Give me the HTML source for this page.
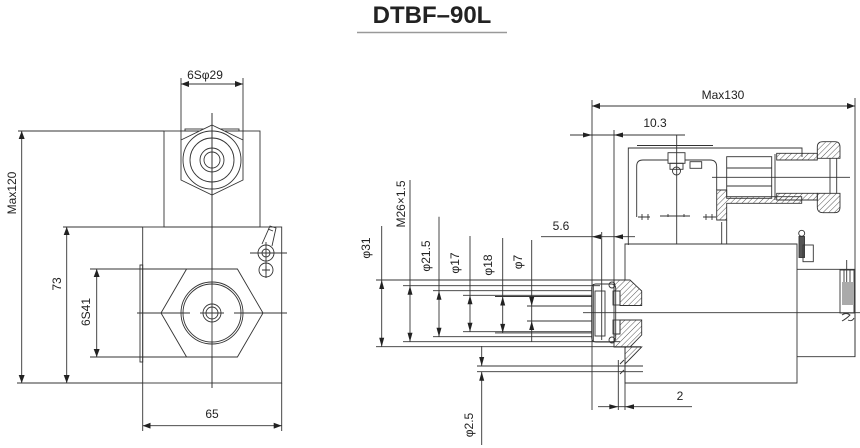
<!DOCTYPE html>
<html><head><meta charset="utf-8"><style>
html,body{margin:0;padding:0;background:#fff;}
svg{display:block;}
text{font-family:"Liberation Sans",Arial,sans-serif;fill:#222;}
</style></head><body>
<svg width="860" height="448" viewBox="0 0 860 448" xmlns="http://www.w3.org/2000/svg">
<defs>
<marker id="a" viewBox="0 0 8 6" refX="8" refY="3" markerWidth="8" markerHeight="6" markerUnits="userSpaceOnUse" orient="auto-start-reverse"><path d="M0,0 L8,3 L0,6 z" fill="#222"/></marker>
<pattern id="h" width="4" height="4" patternUnits="userSpaceOnUse" patternTransform="rotate(45)"><line x1="0" y1="0" x2="0" y2="4" stroke="#444" stroke-width="0.9"/></pattern>
</defs>

<!-- Title -->
<text x="432" y="23" text-anchor="middle" font-size="24" font-weight="bold">DTBF–90L</text>
<line x1="357" y1="32.5" x2="507" y2="32.5" stroke="#999" stroke-width="1.5"/>

<g stroke="#333" stroke-width="0.9" fill="none">
<!-- ============ LEFT VIEW ============ -->
<!-- 6Sphi29 -->
<line x1="181" y1="78" x2="181" y2="140"/>
<line x1="243" y1="78" x2="243" y2="140"/>
<line x1="181" y1="84" x2="243" y2="84" marker-start="url(#a)" marker-end="url(#a)"/>
<!-- upper body -->
<rect x="164" y="131" width="96" height="96"/>
<line x1="18" y1="131" x2="164" y2="131"/>
<rect x="185" y="129" width="54" height="2"/>
<polygon points="212,125 243,140 243,180 212,195 181,180 181,140" fill="#fff"/>
<circle cx="212" cy="160" r="29"/>
<circle cx="212" cy="160" r="22"/>
<circle cx="212" cy="160" r="12"/>
<circle cx="212" cy="160" r="8"/>
<!-- center line -->
<line x1="212" y1="113" x2="212" y2="388"/>
<!-- Max120 -->
<line x1="21.7" y1="131" x2="21.7" y2="383" marker-start="url(#a)" marker-end="url(#a)"/>
<!-- lower body -->
<rect x="142.7" y="227" width="139" height="156"/>
<line x1="63" y1="227" x2="142.7" y2="227"/>
<line x1="17" y1="383" x2="142.7" y2="383"/>
<line x1="66.7" y1="227" x2="66.7" y2="383" marker-start="url(#a)" marker-end="url(#a)"/>
<!-- 6S41 -->
<line x1="90" y1="269" x2="187" y2="269"/>
<line x1="90" y1="357" x2="187" y2="357"/>
<line x1="96.7" y1="269" x2="96.7" y2="357" marker-start="url(#a)" marker-end="url(#a)"/>
<rect x="140" y="265" width="2.7" height="97"/>
<polygon points="186.6,269 237.4,269 263,313 237.4,357 186.6,357 161,313" fill="#fff"/>
<circle cx="212" cy="313" r="31"/>
<circle cx="212" cy="313" r="29"/>
<circle cx="212" cy="313" r="9"/>
<circle cx="212" cy="313" r="6"/>
<line x1="137" y1="313" x2="190" y2="313"/>
<line x1="200" y1="313" x2="224" y2="313"/>
<line x1="234" y1="313" x2="287" y2="313"/>
<line x1="212" y1="113" x2="212" y2="388"/>
<!-- fitting -->
<path d="M262,244 L270,226 L276,228 L272,246"/>
<line x1="268" y1="229" x2="273" y2="231"/>
<circle cx="266" cy="253" r="8"/>
<circle cx="266" cy="253" r="4"/>
<circle cx="266" cy="270" r="7"/>
<path d="M262,270 L270,270 M266,266 L266,274"/>
<line x1="250" y1="253" x2="287" y2="253"/>
<line x1="266" y1="242" x2="266" y2="278"/>
<!-- 65 -->
<line x1="142.7" y1="383" x2="142.7" y2="431"/>
<line x1="281.7" y1="383" x2="281.7" y2="431"/>
<line x1="142.7" y1="425.7" x2="281.7" y2="425.7" marker-start="url(#a)" marker-end="url(#a)"/>

<!-- ============ RIGHT VIEW ============ -->
<!-- Max130 -->
<line x1="592" y1="100" x2="592" y2="410"/>
<line x1="855" y1="98" x2="855" y2="357"/>
<line x1="592" y1="106" x2="855" y2="106" marker-start="url(#a)" marker-end="url(#a)"/>
<!-- 10.3 -->
<line x1="570" y1="135" x2="685" y2="135"/>
<line x1="614" y1="130" x2="614" y2="340"/>
<!-- 5.6 -->
<line x1="541" y1="236.7" x2="635" y2="236.7"/>
<line x1="601.7" y1="232" x2="601.7" y2="340"/>

<!-- upper box -->
<path d="M628.3,245 V148 H802 V157"/>
<line x1="637" y1="145.5" x2="713" y2="145.5"/>
<path d="M636.7,217 V166 Q636.7,160 643,160 H710 Q716.7,160 716.7,167 V190"/>
<rect x="668" y="152.7" width="17" height="10.6" fill="#fff"/>
<rect x="670" y="163.3" width="13" height="6"/>
<circle cx="676.5" cy="171" r="4"/>
<rect x="690" y="161.7" width="11.7" height="6.6"/>
<line x1="676.7" y1="135" x2="676.7" y2="244"/>
<path d="M638,217 h12 M642,214 v6 M648,214 v6 M660,216 h30 M668,214 v3 M684,214 v3 M703,217 h13 M706,214 v6 M712,214 v6"/>
<line x1="721.7" y1="222" x2="721.7" y2="244"/>
<line x1="726.7" y1="220" x2="726.7" y2="244"/>
<!-- bracket hatched -->
<path d="M716.7,190 H726.7 V196.7 H801.7 V203.3 H726.7 V220 H716.7 Z" fill="url(#h)"/>
<!-- connector -->
<rect x="726.7" y="156.7" width="45" height="41.6"/>
<line x1="726.7" y1="168" x2="771.7" y2="168"/>
<line x1="726.7" y1="186" x2="771.7" y2="186"/>
<line x1="775" y1="154" x2="775" y2="200"/>
<path d="M776.7,153.3 H817.3 V160 H776.7 Z" fill="url(#h)"/>
<path d="M776.7,193.3 H817.3 V200 H776.7 Z" fill="url(#h)"/>
<path d="M817.3,147 Q817.3,141.7 823,141.7 H835 Q840,141.7 840,147 V158.3 H817.3 Z" fill="url(#h)"/>
<path d="M817.3,193.3 H840 V207 Q840,212.7 835,212.7 H823 Q817.3,212.7 817.3,207 Z" fill="url(#h)"/>
<line x1="836.7" y1="158.3" x2="836.7" y2="193.3"/>
<line x1="830" y1="158.3" x2="830" y2="193.3"/>
<line x1="712" y1="177.3" x2="850" y2="177.3"/>

<!-- main block -->
<path d="M625,275 V244 H797 V383 H625 V347"/>
<path d="M797,269.3 H855 V356.7 H797"/>
<!-- pin -->
<circle cx="801.7" cy="233.3" r="3"/>
<rect x="799" y="236.5" width="5.5" height="21" fill="#555"/>
<rect x="803" y="245" width="10.3" height="16.7"/>
<!-- plug right -->
<rect x="840" y="270" width="14" height="43"/>
<rect x="842" y="282" width="12" height="23" fill="#aaa" stroke="none"/>
<line x1="846.7" y1="260" x2="846.7" y2="282"/>
<line x1="844" y1="270" x2="844" y2="282"/>
<line x1="850" y1="270" x2="850" y2="282"/>
<path d="M842,315 q4,-3 8,0 q-4,4 -8,6 M848,320 q4,2 6,-2"/>
<!-- center line -->
<line x1="583" y1="312.7" x2="860" y2="312.7"/>

<!-- bore hatch -->
<path d="M614,280 H630 L641.7,291 V305.5 H620 V291 H614 Z" fill="url(#h)"/>
<path d="M614,334 H620 V320 H641.7 V335 L630,347 H614 Z" fill="url(#h)"/>
<path d="M625,347 H641.7 L625,364 Z" fill="url(#h)"/>
<line x1="625" y1="275" x2="625" y2="280"/>
<line x1="625" y1="347" x2="625" y2="410"/>
<!-- plug -->
<rect x="591.7" y="284" width="24" height="58" rx="4"/>
<rect x="595" y="291" width="10" height="45"/>
<line x1="593.3" y1="284" x2="593.3" y2="342"/>
<circle cx="612" cy="285" r="3"/>
<circle cx="612" cy="340" r="3"/>
<rect x="613" y="291" width="7" height="14"/>
<rect x="613" y="320" width="7" height="14"/>

<!-- extension lines from bore -->
<line x1="376" y1="280" x2="625" y2="280"/>
<line x1="403" y1="285.7" x2="600" y2="285.7"/>
<line x1="433" y1="290.7" x2="592" y2="290.7"/>
<line x1="463" y1="295.3" x2="592" y2="295.3"/>
<line x1="495" y1="296.5" x2="592" y2="296.5"/>
<line x1="527" y1="306" x2="592" y2="306"/>
<line x1="527" y1="321" x2="592" y2="321"/>
<line x1="463" y1="331.7" x2="592" y2="331.7"/>
<line x1="495" y1="332.9" x2="592" y2="332.9"/>
<line x1="433" y1="336.7" x2="592" y2="336.7"/>
<line x1="403" y1="341.7" x2="620" y2="341.7"/>
<line x1="376" y1="346.7" x2="641" y2="346.7"/>

<!-- phi dims -->
<line x1="381.7" y1="226" x2="381.7" y2="346.7"/>
<line x1="410" y1="180" x2="410" y2="341.7"/>
<line x1="439" y1="216.7" x2="439" y2="336.7"/>
<line x1="470" y1="236" x2="470" y2="331.7"/>
<line x1="502.7" y1="238" x2="502.7" y2="332.9"/>
<line x1="531.7" y1="240" x2="531.7" y2="341.7"/>

<!-- phi2.5 -->
<line x1="477" y1="366" x2="643" y2="366"/>
<line x1="477" y1="371.7" x2="643" y2="371.7"/>
<line x1="481.7" y1="346" x2="481.7" y2="366"/>
<line x1="481.7" y1="371.7" x2="481.7" y2="445"/>
<line x1="618.3" y1="360" x2="618.3" y2="410"/>
<path d="M620,364 l4,-4 M620,374 l4,-4"/>
<!-- 2 -->
<line x1="598" y1="406.7" x2="692" y2="406.7"/>
</g>

<!-- arrowheads (manual) -->
<g fill="#222">
<!-- phi31 -->
<path d="M381.7,280 l-2.5,9 h5 z"/><path d="M381.7,346.7 l-2.5,-9 h5 z"/>
<path d="M410,285.7 l-2.5,9 h5 z"/><path d="M410,341.7 l-2.5,-9 h5 z"/>
<path d="M439,290.7 l-2.5,9 h5 z"/><path d="M439,336.7 l-2.5,-9 h5 z"/>
<path d="M470,295.3 l-2.5,9 h5 z"/><path d="M470,331.7 l-2.5,-9 h5 z"/>
<path d="M502.7,296.5 l-2.5,9 h5 z"/><path d="M502.7,332.9 l-2.5,-9 h5 z"/>
<!-- phi7 outside -->
<path d="M531.7,306 l-2.5,-9 h5 z"/><path d="M531.7,321 l-2.5,9 h5 z"/>
<!-- phi2.5 outside -->
<path d="M481.7,366 l-2.5,-9 h5 z"/><path d="M481.7,371.7 l-2.5,9 h5 z"/>
<!-- 10.3 -->
<path d="M592,135 l-9,-2.5 v5 z"/><path d="M614,135 l9,-2.5 v5 z"/>
<!-- 5.6 -->
<path d="M592,236.7 l9,-2.5 v5 z"/><path d="M614,236.7 l9,-2.5 v5 z"/>
<!-- 2 -->
<path d="M618.3,406.7 l-9,-2.5 v5 z"/><path d="M625,406.7 l9,-2.5 v5 z"/>
</g>

<!-- labels -->
<g font-size="12">
<text x="205" y="79" text-anchor="middle">6Sφ29</text>
<text x="212" y="418" text-anchor="middle">65</text>
<text transform="translate(12,193) rotate(-90)" text-anchor="middle" dominant-baseline="central">Max120</text>
<text transform="translate(57,284) rotate(-90)" text-anchor="middle" dominant-baseline="central">73</text>
<text transform="translate(86,312) rotate(-90)" text-anchor="middle" dominant-baseline="central">6S41</text>

<text x="723" y="99" text-anchor="middle">Max130</text>
<text x="655" y="127" text-anchor="middle">10.3</text>
<text x="561" y="230" text-anchor="middle">5.6</text>
<text x="680" y="400" text-anchor="middle">2</text>
<text transform="translate(366,248) rotate(-90)" text-anchor="middle" dominant-baseline="central">φ31</text>
<text transform="translate(401,204) rotate(-90)" text-anchor="middle" dominant-baseline="central">M26×1.5</text>
<text transform="translate(426,256) rotate(-90)" text-anchor="middle" dominant-baseline="central">φ21.5</text>
<text transform="translate(455,263) rotate(-90)" text-anchor="middle" dominant-baseline="central">φ17</text>
<text transform="translate(488,265) rotate(-90)" text-anchor="middle" dominant-baseline="central">φ18</text>
<text transform="translate(518,262) rotate(-90)" text-anchor="middle" dominant-baseline="central">φ7</text>
<text transform="translate(469,425) rotate(-90)" text-anchor="middle" dominant-baseline="central">φ2.5</text>
</g>
</svg>
</body></html>
